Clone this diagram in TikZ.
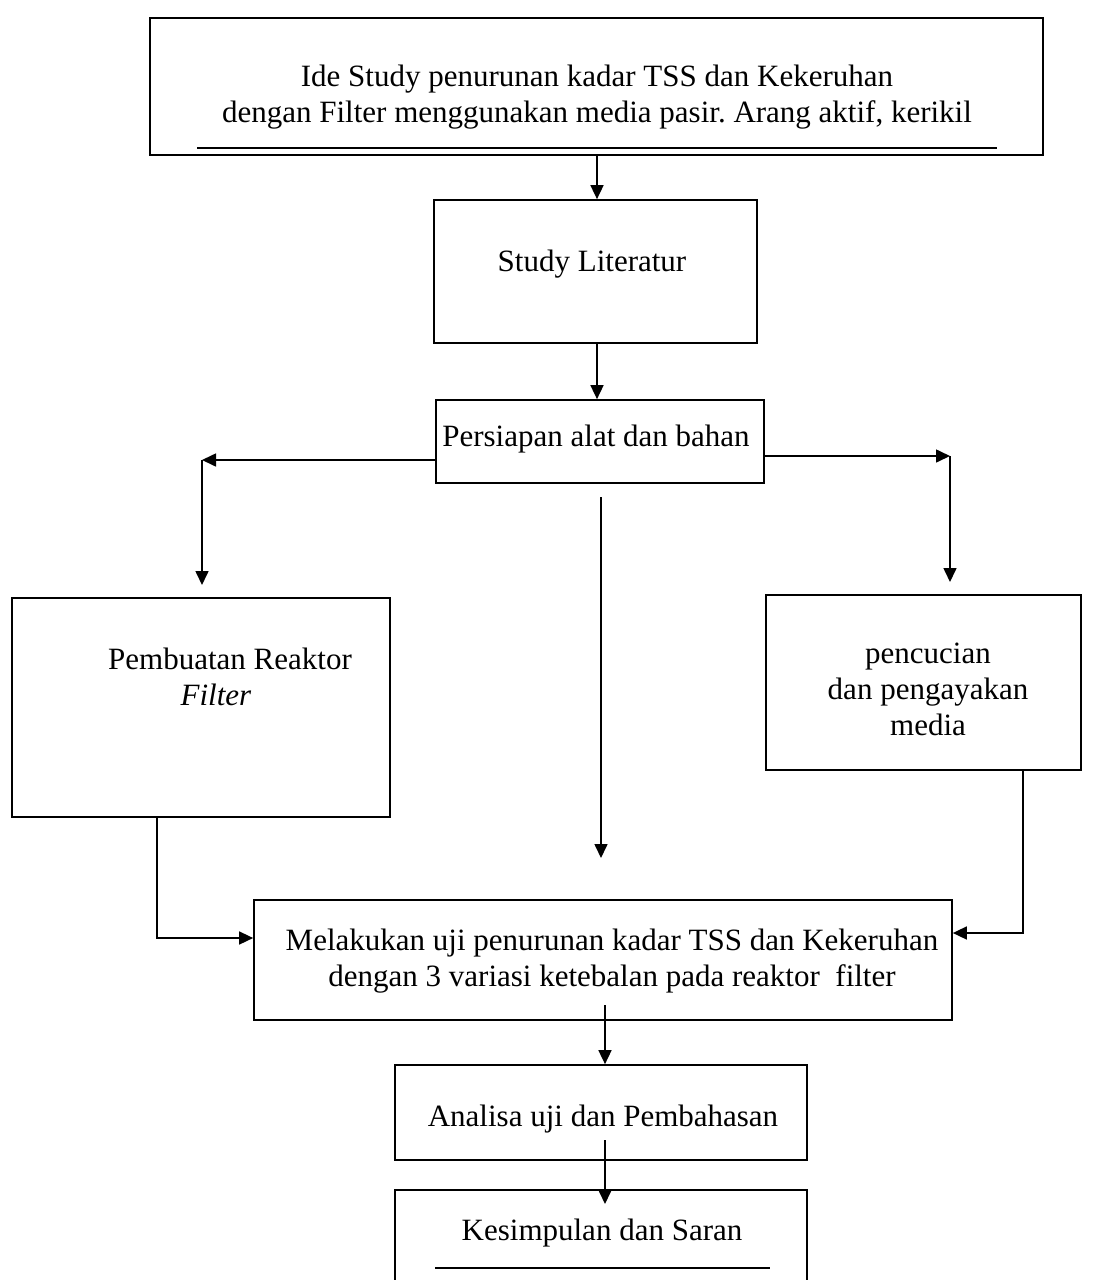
\documentclass[tikz,border=0pt]{standalone}
\usepackage{fontspec}
\setmainfont{Liberation Serif}
\usetikzlibrary{arrows.meta}
\frenchspacing
\tikzset{
  kotak/.style={draw, line width=1.7pt, inner sep=0pt},
  teks/.style={align=center, inner sep=0pt, font=\fontsize{31}{36}\selectfont},
  panah/.style={line width=1.6pt, -{Triangle[length=14pt,width=13pt]}},
  garis/.style={line width=1.8pt}
}
\begin{document}
\begin{tikzpicture}[x=1pt,y=-1pt]
\useasboundingbox (0,0) rectangle (1093,1280);
% kotak
\node[kotak, minimum width=893pt, minimum height=137pt] (ide) at (596.5,86.5) {};
\node[kotak, minimum width=323pt, minimum height=143pt] (studi) at (595.5,271.5) {};
\node[kotak, minimum width=328pt, minimum height=83pt] (persiapan) at (600,441.5) {};
\node[kotak, minimum width=378pt, minimum height=219pt] (reaktor) at (201,707.5) {};
\node[kotak, minimum width=315pt, minimum height=175pt] (cuci) at (923.5,682.5) {};
\node[kotak, minimum width=698pt, minimum height=120pt] (uji) at (603,960) {};
\node[kotak, minimum width=412pt, minimum height=95pt] (analisa) at (601,1112.5) {};
\node[kotak, minimum width=412pt, minimum height=132pt] (saran) at (601,1256) {};
% teks
\node[teks] (ideTeks) at (597,97) {Ide Study penurunan kadar TSS dan Kekeruhan\\dengan Filter menggunakan media pasir. Arang aktif, kerikil};
\node[teks] (studiTeks) at (592,264) {Study Literatur};
\node[teks] (persiapanTeks) at (596,439) {Persiapan alat dan bahan};
\node[teks] (reaktorTeks) at (230,677) {Pembuatan Reaktor\\\textit{Filter}\hspace*{28pt}};
\node[teks] (cuciTeks) at (928,689) {pencucian\\dan pengayakan\\media};
\node[teks] (ujiTeks) at (612,961) {Melakukan uji penurunan kadar TSS dan Kekeruhan\\dengan 3 variasi ketebalan pada reaktor\ \ filter};
\node[teks] (analisaTeks) at (603,1119) {Analisa uji dan Pembahasan};
\node[teks] (saranTeks) at (602,1233) {Kesimpulan dan Saran};
% garis bawah
\draw[garis] (197,148) -- (997,148);
\draw[garis] (435,1268) -- (770,1268);
% titik bantu
\coordinate (atas) at (597,155);
\coordinate (kiri1) at (202,460);
\coordinate (kiri2) at (202,585);
\coordinate (kanan1) at (950,456);
\coordinate (kanan2) at (950,582);
\coordinate (tengah1) at (601,497);
\coordinate (tengah2) at (601,858);
\coordinate (kb) at (157,938);
\coordinate (kn) at (1023,933);
\coordinate (bawah1) at (605,1005);
\coordinate (bawah2) at (605,1140);
\coordinate (bawah3) at (605,1204);
% panah
\draw[panah] (atas |- ide.south) -- (atas |- studi.north);
\draw[panah] (atas |- studi.south) -- (atas |- persiapan.north);
\draw[panah] (kiri1 -| persiapan.west) -- (kiri1);
\draw[panah] (kiri1) -- (kiri2);
\draw[panah] (kanan1 -| persiapan.east) -- (kanan1);
\draw[panah] (kanan1) -- (kanan2);
\draw[panah] (tengah1) -- (tengah2);
\draw[panah] (kb |- reaktor.south) -- (kb) -- (kb -| uji.west);
\draw[panah] (kn |- cuci.south) -- (kn) -- (kn -| uji.east);
\draw[panah] (bawah1) -- (bawah1 |- analisa.north);
\draw[panah] (bawah2) -- (bawah3);
\end{tikzpicture}
\end{document}
